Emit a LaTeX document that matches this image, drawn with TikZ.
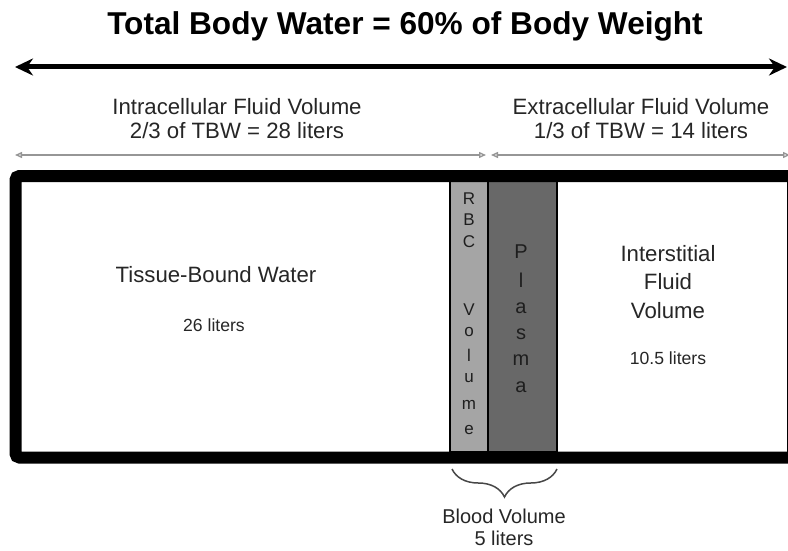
\documentclass[tikz,border=0pt]{standalone}
\usepackage{fontspec}
\setmainfont{Liberation Sans}
\usepackage{tikz}
\usetikzlibrary{arrows.meta,positioning,decorations.pathreplacing}
\usepackage{xcolor}
\definecolor{ink}{RGB}{38,38,38}
\definecolor{thin}{RGB}{150,150,150}
\definecolor{rbcfill}{RGB}{165,165,165}
\definecolor{plasmafill}{RGB}{104,104,104}
\tikzset{
  lbl/.style={text=ink,align=center,inner sep=0pt,font=\fontsize{22.2}{24}\selectfont},
  small/.style={text=ink,inner sep=0pt,font=\fontsize{17.6}{20}\selectfont},
  letter/.style={text=ink!80!black,inner sep=0pt},
  bigarr/.style={{Stealth[length=18pt,width=17pt]}-{Stealth[length=18pt,width=17pt]},line width=5pt},
  thinarr/.style={{Triangle[open,length=7pt,width=6pt]}-{Triangle[open,length=7pt,width=6pt]},
    draw=thin,line width=1.4pt},
  column/.style={draw=black,line width=1.6pt},
}

\begin{document}
\begin{tikzpicture}[x=1pt,y=-1pt]
\useasboundingbox (0,0) rectangle (788,551);
% title and total arrow
\node[text=black,inner sep=0pt,font=\fontsize{31.6}{36}\selectfont\bfseries] (title) at (405,26)
  {Total Body Water = 60\% of Body Weight};
\coordinate (tbwL) at (15,67);
\coordinate (tbwR) at (787,67);
\draw[bigarr] (tbwL) -- (tbwR);
% compartment headings
\node[lbl] (icf) at (237,119) {Intracellular Fluid Volume\\2/3 of TBW = 28 liters};
\node[lbl] (ecf) at (641,119) {Extracellular Fluid Volume\\1/3 of TBW = 14 liters};
\coordinate (icfL) at (15,155);
\coordinate (icfR) at (486,155);
\coordinate (ecfL) at (491,155);
\coordinate (ecfR) at (790,155);
\draw[thinarr] (icfL) -- (icfR);
\draw[thinarr] (ecfL) -- (ecfR);
% blood columns
\draw[column,fill=rbcfill] (450,181) rectangle (488,452);
\draw[column,fill=plasmafill] (488,181) rectangle (557,452);
\foreach \ch/\y [count=\i] in {R/199,B/220,C/242,V/310,o/332,l/355,u/378,m/405,e/430}
  \node[letter,font=\fontsize{17}{20}\selectfont] (rbc-\i) at (469,\y) {\ch};
\foreach \ch/\y [count=\i] in {P/252,l/280,a/308,s/334,m/360,a/387}
  \node[letter,font=\fontsize{20}{22}\selectfont] (pl-\i) at (521,\y) {\ch};
% body box
\draw[line width=12pt,rounded corners=4pt] (15.5,176) rectangle (793,457.5);
% compartments
\node[lbl] (tbw) at (216,275) {Tissue-Bound Water};
\node[small] (tbwl) at (214,325) {26 liters};
\node[lbl,font=\fontsize{22.2}{28.5}\selectfont] (isf) at (668,282) {Interstitial\\Fluid\\Volume};
\node[small] (isfl) at (668,358) {10.5 liters};
% blood volume
\coordinate (bvL) at (452,469);
\coordinate (bvR) at (557,469);
\draw[ink!85,line width=1.5pt,decorate,decoration={brace,mirror,amplitude=28pt}] (bvL) -- (bvR);
\node[lbl,font=\fontsize{20}{22}\selectfont] (bv) at (504,527) {Blood Volume\\5 liters};
\end{tikzpicture}
\end{document}
